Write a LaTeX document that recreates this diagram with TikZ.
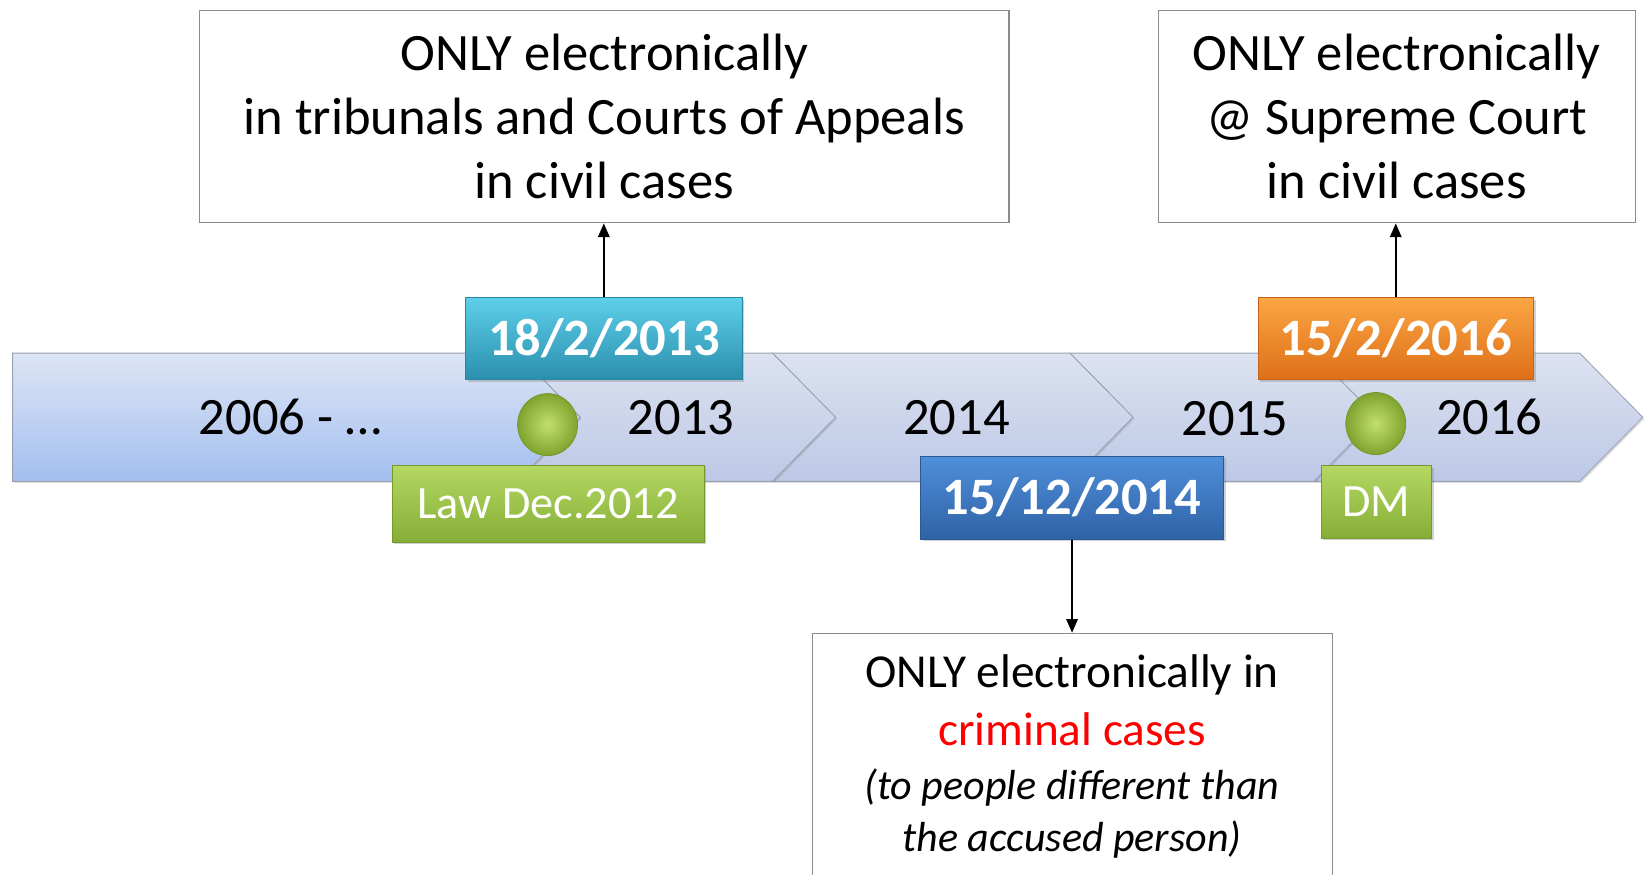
\documentclass[tikz,border=0pt]{standalone}
\usepackage{fontspec}
\setmainfont{Carlito}
\usetikzlibrary{arrows.meta,shadows}
\definecolor{bandline}{HTML}{9AA2B2}
\definecolor{bandAtop}{HTML}{DDE5F5}
\definecolor{bandAbot}{HTML}{A3BFEF}
\definecolor{bandBtop}{HTML}{DCE2F0}
\definecolor{bandBbot}{HTML}{BCC8E6}
\definecolor{boxline}{HTML}{8C8C8C}
\definecolor{tealtop}{HTML}{5ECFEA}
\definecolor{tealbot}{HTML}{2A8FAD}
\definecolor{tealline}{HTML}{2A85A0}
\definecolor{greentop}{HTML}{B4D862}
\definecolor{greenbot}{HTML}{86AE36}
\definecolor{greenline}{HTML}{76992E}
\definecolor{bluetop}{HTML}{4F8FDA}
\definecolor{bluebot}{HTML}{2F62A6}
\definecolor{blueline}{HTML}{2C5894}
\definecolor{orangetop}{HTML}{FBA644}
\definecolor{orangebot}{HTML}{DE6F18}
\definecolor{orangeline}{HTML}{C4631A}
\definecolor{dotin}{HTML}{C2DF6E}
\definecolor{dotout}{HTML}{7FA42E}
\tikzset{
  bandA/.style={draw=bandline, line width=0.8pt, top color=bandAtop, bottom color=bandAbot,
    drop shadow={shadow xshift=1.5pt, shadow yshift=-1.5pt, opacity=0.25}},
  bandB/.style={draw=bandline, line width=0.8pt, top color=bandBtop, bottom color=bandBbot,
    drop shadow={shadow xshift=1.5pt, shadow yshift=-1.5pt, opacity=0.25}},
  year/.style={font=\fontsize{50}{60}\selectfont, text=black, inner sep=0pt},
  dot/.style={ellipse, minimum width=57pt, minimum height=59pt, inner sep=0pt, draw=greenline, line width=0.8pt,
    inner color=dotin, outer color=dotout},
  datebox/.style={rectangle, inner sep=0pt, text height=31.7pt, text depth=0pt,
    font=\fontsize{50}{60}\selectfont\bfseries, text=white, line width=0.8pt,
    drop shadow={shadow xshift=2pt, shadow yshift=-2pt, opacity=0.35}},
  lawbox/.style={rectangle, inner sep=0pt, text height=28.3pt, text depth=0pt,
    font=\fontsize{44}{54}\selectfont, text=white, line width=0.8pt,
    draw=greenline, top color=greentop, bottom color=greenbot,
    drop shadow={shadow xshift=2pt, shadow yshift=-2pt, opacity=0.35}},
  textbox/.style={rectangle, draw=boxline, line width=1.2pt, fill=white, align=center,
    inner sep=0pt, font=\fontsize{50}{61}\selectfont},
  arr/.style={line width=1.4pt, -{Triangle[length=13pt,width=11pt]}},
}
\usetikzlibrary{shapes.geometric}
\begin{document}
\begin{tikzpicture}[x=1pt,y=-1pt]
\useasboundingbox (0,0) rectangle (1568,832);
\fill[white] (0,0) rectangle (1568,832);
% timeline band
\path[bandB] (1250,336) -- (1503,336) -- (1563,397) -- (1503,458) -- (1250,458) -- (1310,397) -- cycle;
\path[bandB] (1018,336) -- (1250,336) -- (1310,397) -- (1250,458) -- (1018,458) -- (1078,397) -- cycle;
\path[bandB] (735,336) -- (1018,336) -- (1078,397) -- (1018,458) -- (735,458) -- (795,397) -- cycle;
\path[bandB] (492,336) -- (735,336) -- (795,397) -- (735,458) -- (492,458) -- (552,397) -- cycle;
\path[bandA] (12,336) -- (492,336) -- (552,397) -- (492,458) -- (12,458) -- cycle;
% year labels
\node[year] (y2006) at (276,397) {2006 - …};
\node[year] (y2013) at (648,397) {2013};
\node[year] (y2014) at (910,397) {2014};
\node[year] (y2015) at (1175,398) {2015};
\node[year] (y2016) at (1417,397) {2016};
% dots
\node[dot] (dot1) at (521,404) {};
\node[dot] (dot2) at (1309,403) {};
% date boxes
\node[datebox, minimum width=263pt, minimum height=78pt, draw=tealline, top color=tealtop, bottom color=tealbot] (d2013) at (574.5,322) {18/2/2013};
\node[datebox, minimum width=262pt, minimum height=78pt, draw=orangeline, top color=orangetop, bottom color=orangebot] (d2016) at (1328,322) {15/2/2016};
\node[datebox, minimum width=288pt, minimum height=79pt, draw=blueline, top color=bluetop, bottom color=bluebot] (d2014) at (1020,473.5) {15/12/2014};
\node[lawbox, minimum width=297pt, minimum height=73pt] (law) at (521.5,479.5) {Law Dec.2012};
\node[lawbox, minimum width=105pt, minimum height=69pt] (dm) at (1309.5,477.5) {DM};
% text boxes
\node[textbox, minimum width=770pt, minimum height=202pt] (topL) at (575,111)
  {ONLY electronically\\in tribunals and Courts of Appeals\\in civil cases};
\node[textbox, minimum width=454pt, minimum height=202pt] (topR) at (1329,111)
  {ONLY electronically\\@ Supreme Court\\in civil cases};
\node[textbox, minimum width=495pt, minimum height=250pt, anchor=north] (bot) at (1020.5,602) {};
\node[anchor=base, inner sep=0pt, font=\fontsize{45}{55}\selectfont] (b1) at (1020,654) {ONLY electronically in};
\node[anchor=base, inner sep=0pt, font=\fontsize{45}{55}\selectfont, text=red] (b2) at (1020,709) {criminal cases};
\node[anchor=base, inner sep=0pt, font=\fontsize{40}{49}\selectfont\itshape] (b3) at (1020,761) {(to people different than};
\node[anchor=base, inner sep=0pt, font=\fontsize{40}{49}\selectfont\itshape] (b4) at (1020,810) {the accused person)};
% connectors
\draw[arr] (d2013.north) -- (d2013.north |- topL.south);
\draw[arr] (d2016.north) -- (d2016.north |- topR.south);
\draw[arr] (d2014.south) -- (d2014.south |- bot.north);
\end{tikzpicture}
\end{document}
